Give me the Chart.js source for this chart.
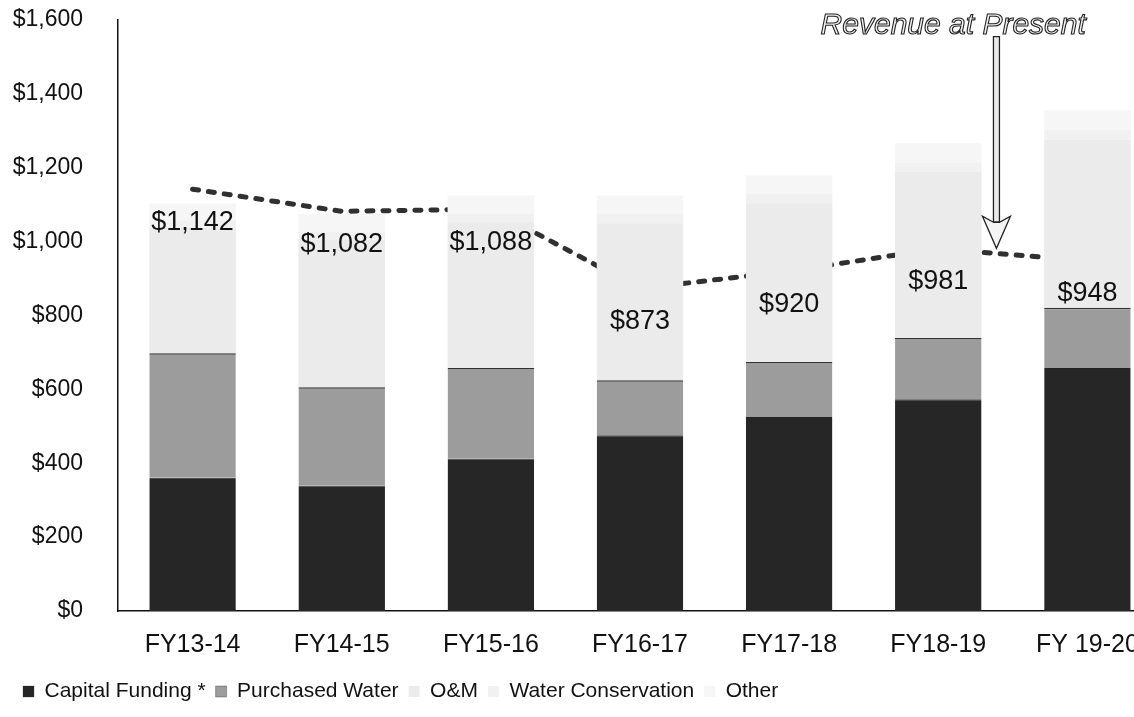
<!DOCTYPE html>
<html>
<head>
<meta charset="utf-8">
<script src="https://cdn.jsdelivr.net/npm/chart.js@4.4.1/dist/chart.umd.min.js"></script>
<style>
  html, body { margin: 0; padding: 0; background: #fff; overflow: hidden; }
  #wrap { width: 1134px; height: 717px; overflow: hidden; }
</style>
</head>
<body>
<div id="wrap"><canvas id="mycanvas" width="1162" height="717"></canvas></div>
<script>
// fiscal years on the x axis
var years = ['FY13-14', 'FY14-15', 'FY15-16', 'FY16-17', 'FY17-18', 'FY18-19', 'FY 19-20'];

// stacked cost components ($)
var capital = [361, 340, 413, 476, 525, 573, 658];
var purchased = [337, 266, 245, 149, 149, 166, 163];
var om = [340, 400, 395, 425, 430, 450, 455];
var conservation = [20, 20, 22, 25, 25, 25, 27];
var other = [45, 49, 50, 50, 50, 52, 53];

// revenue at present rates (dashed line + labels)
var revenue = [1142, 1082, 1088, 873, 920, 981, 948];

var yTicks = [0, 200, 400, 600, 800, 1000, 1200, 1400, 1600];

var FONT = '"Liberation Sans", Arial, sans-serif';

function money(v) {
  return '$' + v.toLocaleString('en-US');
}

// value labels under the line + the "Revenue at Present" callout
var revenuePlugin = {
  id: 'revenueLabels',
  afterDatasetsDraw: function(chart) {
    var ctx = chart.ctx;
    var meta = chart.getDatasetMeta(5);
    ctx.save();
    ctx.font = '27px ' + FONT;
    ctx.fillStyle = '#111';
    ctx.textAlign = 'center';
    ctx.textBaseline = 'middle';
    meta.data.forEach(function(pt, i) {
      ctx.fillText(money(revenue[i]), pt.x, pt.y + 33);
    });

    var xs = chart.scales.x, ys = chart.scales.y;
    var step = xs.getPixelForValue(6) - xs.getPixelForValue(5);
    var ax = xs.getPixelForValue(5) + 0.39 * step;
    var top = ys.getPixelForValue(1555);
    var tip = ys.getPixelForValue(982);

    // hollow outlined italic text
    ctx.font = 'italic 30px ' + FONT;
    ctx.lineWidth = 1.1;
    ctx.strokeStyle = '#222';
    ctx.fillStyle = '#f2f2f2';
    var tx = xs.getPixelForValue(5) + 0.1 * step;
    var ty = ys.getPixelForValue(1585);
    ctx.fillText('Revenue at Present', tx, ty);
    ctx.strokeText('Revenue at Present', tx, ty);

    // double-line arrow
    ctx.lineWidth = 1.3;
    ctx.fillStyle = '#eaeaea';
    ctx.beginPath();
    ctx.rect(ax - 3, top, 6, (tip - 26) - top);
    ctx.fill();
    ctx.stroke();
    ctx.beginPath();
    ctx.moveTo(ax - 3, tip - 26);
    ctx.lineTo(ax - 14, tip - 32);
    ctx.lineTo(ax, tip);
    ctx.lineTo(ax + 14, tip - 32);
    ctx.lineTo(ax + 3, tip - 26);
    ctx.closePath();
    ctx.fillStyle = '#f4f4f4';
    ctx.fill();
    ctx.stroke();
    ctx.restore();
  }
};

var ctx = document.getElementById('mycanvas');

var chart = new Chart(ctx, {
  type: 'bar',
  data: {
    labels: years,
    datasets: [
      {
        label: 'Capital Funding *',
        data: capital,
        backgroundColor: '#262626',
        borderColor: '#222',
        borderWidth: { top: 1 },
        stack: 'cost'
      },
      {
        label: 'Purchased Water',
        data: purchased,
        backgroundColor: '#9c9c9c',
        borderColor: '#333',
        borderWidth: { top: 1.5 },
        stack: 'cost'
      },
      {
        label: 'O&M',
        data: om,
        backgroundColor: '#ebebeb',
        borderWidth: 0,
        stack: 'cost'
      },
      {
        label: 'Water Conservation',
        data: conservation,
        backgroundColor: '#f1f1f1',
        borderWidth: 0,
        stack: 'cost'
      },
      {
        label: 'Other',
        data: other,
        backgroundColor: '#f6f6f6',
        borderWidth: 0,
        stack: 'cost'
      },
      {
        // dark outline of the hollow dashes
        type: 'line',
        label: 'Revenue at Present',
        data: revenue,
        borderColor: '#303030',
        borderWidth: 5,
        borderDash: [6, 10],
        borderCapStyle: 'round',
        pointRadius: 0,
        tension: 0,
        fill: false,
        stack: 'rev1'
      },
      {
        // light core of the dashes
        type: 'line',
        label: 'Revenue core',
        data: revenue,
        borderColor: '#d4d4d4',
        borderWidth: 2,
        borderDash: [6, 10],
        borderCapStyle: 'butt',
        pointRadius: 0,
        tension: 0,
        fill: false,
        stack: 'rev2'
      }
    ]
  },
  options: {
    responsive: false,
    animation: false,
    layout: {
      padding: { left: 13, top: 20, right: 0, bottom: 5 }
    },
    datasets: {
      bar: {
        categoryPercentage: 1,
        barPercentage: 0.58
      }
    },
    scales: {
      x: {
        stacked: true,
        afterFit: function(scale) { scale.height = 60; },
        grid: { display: false, drawTicks: false },
        border: { display: true, color: '#111', width: 1.5 },
        ticks: {
          color: '#111',
          padding: 19,
          font: { family: FONT, size: 25 }
        }
      },
      y: {
        stacked: true,
        min: 0,
        max: 1600,
        afterFit: function(scale) {
          scale.width = 105;
          scale.paddingTop = 0;
          scale.paddingBottom = 0;
        },
        afterBuildTicks: function(scale) {
          scale.ticks = yTicks.map(function(v) { return { value: v }; });
        },
        grid: { display: false, drawTicks: false },
        border: { display: true, color: '#111', width: 1.5 },
        ticks: {
          color: '#111',
          padding: 35,
          font: { family: FONT, size: 23 },
          callback: function(v) { return money(v); }
        }
      }
    },
    plugins: {
      legend: {
        display: true,
        position: 'bottom',
        align: 'start',
        labels: {
          color: '#111',
          boxWidth: 11,
          boxHeight: 11,
          padding: 10,
          font: { family: FONT, size: 21 },
          filter: function(item) { return item.datasetIndex < 5; }
        }
      },
      tooltip: { enabled: false },
      title: { display: false }
    }
  },
  plugins: [revenuePlugin]
});
</script>
</body>
</html>
